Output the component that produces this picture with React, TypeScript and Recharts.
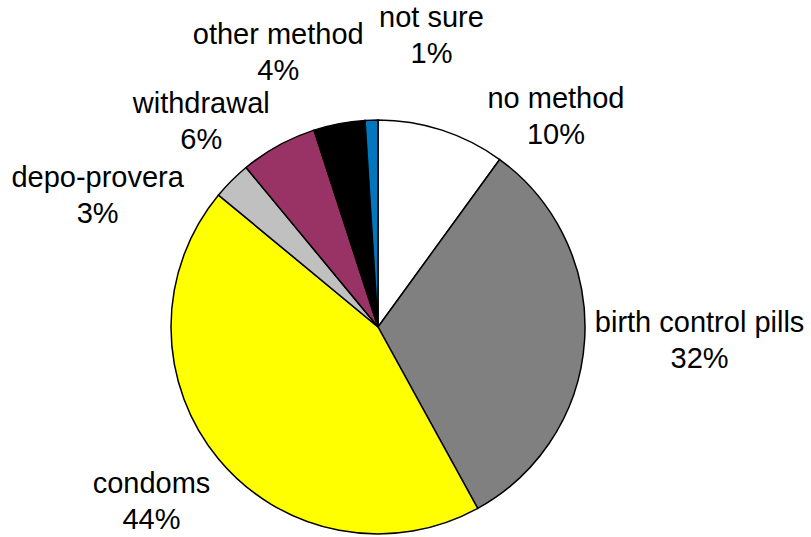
import { PieChart, Pie, Cell } from 'recharts';

const METHODS = ['no method', 'birth control pills', 'condoms', 'depo-provera', 'withdrawal', 'other method', 'not sure'];
const SHARES = [10, 32, 44, 3, 6, 4, 1];
const COLORS = ['#FFFFFF', '#808080', '#FFFF00', '#C0C0C0', '#993366', '#000000', '#0077BF'];

// where each label's first baseline sits, relative to the slice's mid point on the rim
const LABEL_OFFSET: [number, number][] = [
  [114, -22],
  [115, -8],
  [-67, 34],
  [-134, 6],
  [-77, -33],
  [-61, -80],
  [60, -93],
];

const data = METHODS.map((name, i) => ({ name, value: SHARES[i] }));

const RAD = Math.PI / 180;

const renderLabel = (props: any) => {
  const { cx, cy, midAngle, outerRadius, index, name, value } = props;
  const x = cx + outerRadius * Math.cos(-midAngle * RAD) + LABEL_OFFSET[index][0];
  const y = cy + outerRadius * Math.sin(-midAngle * RAD) + LABEL_OFFSET[index][1];
  return (
    <text
      x={x}
      y={y}
      textAnchor="middle"
      fill="#000"
      fontSize={29}
      fontFamily="'Liberation Sans', Arial, sans-serif"
    >
      <tspan x={x} dy={0}>{name}</tspan>
      <tspan x={x} dy={36}>{`${value}%`}</tspan>
    </text>
  );
};

const App = () => {
  return (
    <div style={{ width: 811, height: 537, background: '#fff' }}>
      <style>{'body { margin: 0; }'}</style>
      <PieChart width={811} height={537} margin={{ top: 0, right: 0, bottom: 0, left: 0 }}>
        <Pie
          data={data}
          dataKey="value"
          nameKey="name"
          cx={378}
          cy={327}
          outerRadius={207}
          startAngle={90}
          endAngle={-270}
          stroke="#000"
          strokeWidth={1.5}
          label={renderLabel}
          labelLine={false}
          isAnimationActive={false}
        >
          {data.map((d, i) => (
            <Cell key={d.name} fill={COLORS[i]} />
          ))}
        </Pie>
      </PieChart>
    </div>
  );
};

export default App;
